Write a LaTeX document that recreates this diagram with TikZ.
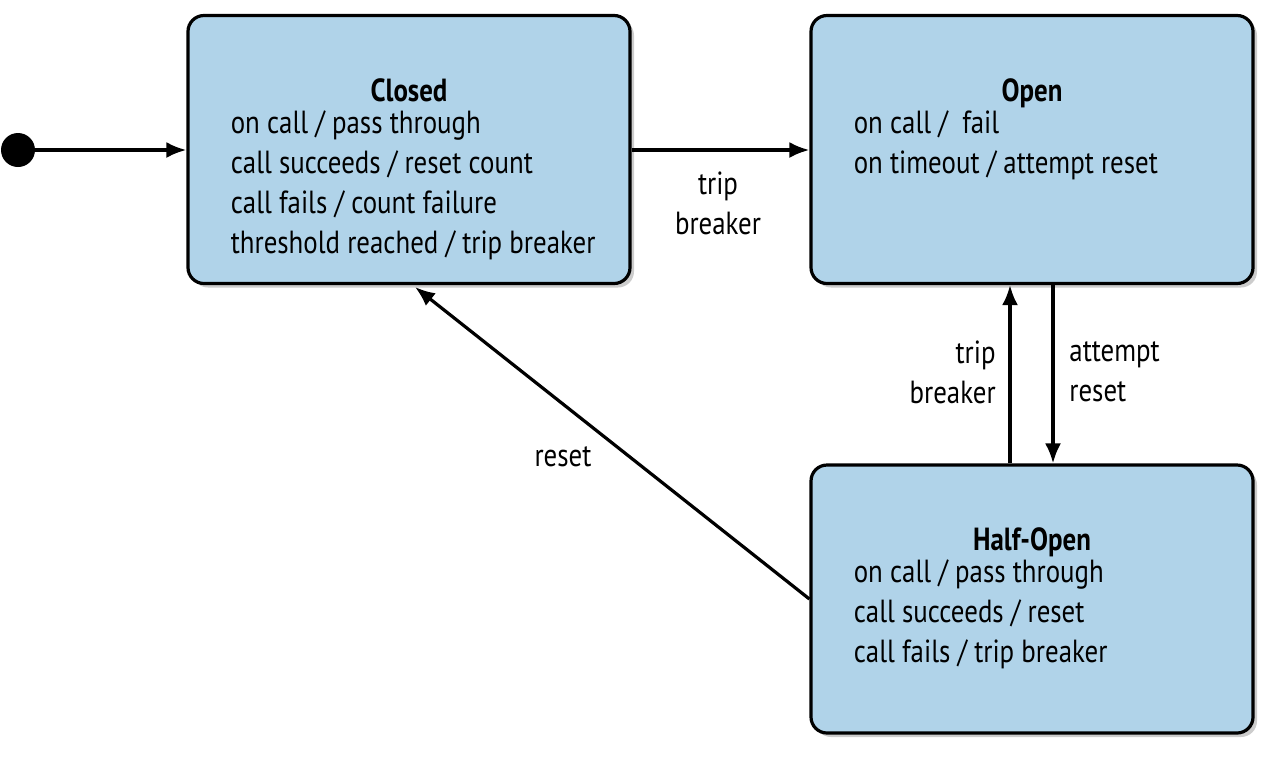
\documentclass[tikz,border=0pt]{standalone}
\usepackage{fontspec}
\setmainfont{PT Sans}[FakeStretch=0.84]
\usetikzlibrary{arrows.meta,positioning,shadows}
\definecolor{statefill}{RGB}{176,211,233}
\tikzset{
  state/.style={rectangle,draw,line width=1.6pt,rounded corners=8pt,fill=statefill,
    minimum width=221pt,minimum height=134pt,
    drop shadow={shadow xshift=2pt,shadow yshift=-2pt,opacity=0.4}},
  title/.style={font=\bfseries\fontsize{16}{20}\selectfont,anchor=north,inner sep=0pt},
  body/.style={font=\fontsize{16}{20}\selectfont,anchor=north west,align=left,inner sep=0pt},
  lbl/.style={font=\fontsize{16}{20}\selectfont,inner sep=0pt},
  arrow/.style={-{Latex[length=10pt,width=8pt]},line width=1.6pt},
}
\begin{document}
\begin{tikzpicture}[x=0.5pt,y=-0.5pt]
\useasboundingbox (0,0) rectangle (1283,762);
\node[state] (closed) at (409,149.5) {};
\node[state] (open) at (1032,149.5) {};
\node[state] (half) at (1032,599) {};
\node[title] (closedt) at ([yshift=-32] closed.north) {Closed};
\node[title] (opent) at ([yshift=-32] open.north) {Open};
\node[title] (halft) at ([yshift=-32] half.north) {Half-Open};
\node[body] (closedb) at ([xshift=22,yshift=-48] closed.north west) {on call / pass through\\call succeeds / reset count\\call fails / count failure\\threshold reached / trip breaker};
\node[body] (openb) at ([xshift=22,yshift=-48] open.north west) {on call /\ \ fail\\on timeout / attempt reset};
\node[body] (halfb) at ([xshift=22,yshift=-48] half.north west) {on call / pass through\\call succeeds / reset\\call fails / trip breaker};
\node[circle,fill,minimum size=17pt,inner sep=0pt] (init) at (18,150) {};
\coordinate (rtip) at (415,287);
\draw[arrow] (init) -- (closed.west |- init);
\draw[arrow] (closed.east |- init) -- (open.west |- init);
\draw[arrow] (half.west) -- (rtip);
\draw[arrow] (half.north -| 1010,0) -- (open.south -| 1010,0);
\draw[arrow] (open.south -| 1053,0) -- (half.north -| 1053,0);
\node[lbl,align=center] (tb1) at (718,203) {trip\\breaker};
\node[lbl,align=center] (rs) at (563,457) {reset};
\node[lbl,align=right,anchor=east] (tb2) at (996,372) {trip\\breaker};
\node[lbl,align=left,anchor=west] (ar) at (1069,372) {attempt\\reset};
\end{tikzpicture}
\end{document}
